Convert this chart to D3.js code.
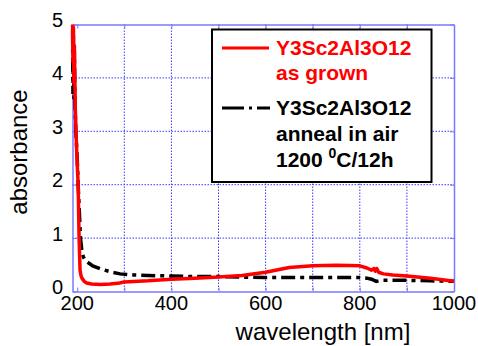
<!DOCTYPE html>
<html><head><meta charset="utf-8">
<script src="https://cdn.jsdelivr.net/npm/d3@7/dist/d3.min.js"></script>
<style>body{margin:0;background:#fff;}svg{display:block;font-family:"Liberation Sans",Arial,sans-serif;}</style>
</head><body>
<svg id="c" width="478" height="346"></svg>
<script>
const xTicks = [200, 400, 600, 800, 1000];
const xGrid = [300, 400, 500, 600, 700, 800, 900];
const yTicks = [0, 1, 2, 3, 4, 5];

const redWl  = [190,191,192,193,194,196,199,202,204,206,208,210,215,220,230,250,270,290,300,350,400,450,500,550,600,650,700,750,800,815,825,830,833,836,840,850,870,900,950,1000];
const redAbs = [5.0,4.3,4.95,3.9,4.6,3.4,2.6,2.0,1.0,0.4,0.3,0.25,0.19,0.16,0.14,0.13,0.14,0.16,0.18,0.2,0.23,0.25,0.27,0.3,0.36,0.45,0.48,0.49,0.48,0.44,0.4,0.43,0.38,0.43,0.36,0.33,0.31,0.29,0.25,0.19];

const blkWl  = [190,191,192,193,194,195,197,200,202,205,207,210,213,216,220,233,250,270,291,320,350,400,450,500,550,600,650,700,750,800,815,825,835,840,850,900,950,1000];
const blkAbs = [4.9,3.7,4.8,3.6,4.5,3.6,3.0,2.5,2.0,1.4,1.0,0.75,0.65,0.6,0.56,0.48,0.42,0.37,0.33,0.31,0.3,0.29,0.28,0.28,0.27,0.26,0.26,0.26,0.26,0.26,0.25,0.23,0.19,0.2,0.21,0.21,0.2,0.19];

const legendRed = ["Y3Sc2Al3O12", "as grown"];
const legendBlk = ["Y3Sc2Al3O12", "anneal in air"];

const svg = d3.select("#c");
const L = 72.5, R = 454, T = 24.5, B = 291.5;
const x = d3.scaleLinear().domain([190, 1000]).range([L, R]);
const y = d3.scaleLinear().domain([0, 5]).range([B, T]);

const gridCol = "#3a3aff";
svg.append("g").selectAll("line").data(xGrid).join("line")
  .attr("x1", d => x(d)).attr("x2", d => x(d)).attr("y1", T).attr("y2", B)
  .attr("stroke", gridCol).attr("stroke-width", 1).attr("stroke-dasharray", "1.5,1.5");
svg.append("g").selectAll("line").data(yTicks.slice(1, 5)).join("line")
  .attr("x1", L).attr("x2", R).attr("y1", d => y(d)).attr("y2", d => y(d))
  .attr("stroke", gridCol).attr("stroke-width", 1).attr("stroke-dasharray", "1.5,1.5");

const frameCol = "#7878ff";
const ax = (g) => { g.selectAll("path").attr("stroke", frameCol).attr("stroke-width", 1.5); g.selectAll(".tick line").attr("stroke", frameCol); g.selectAll("text").remove(); };
const xt = d3.range(200, 1001, 100);
svg.append("g").attr("transform", `translate(0,${B})`).call(d3.axisBottom(x).tickValues(xt).tickSize(-4).tickSizeOuter(0)).call(ax);
svg.append("g").attr("transform", `translate(0,${T})`).call(d3.axisTop(x).tickValues(xt).tickSize(-4).tickSizeOuter(0)).call(ax);
svg.append("g").attr("transform", `translate(${L},0)`).call(d3.axisLeft(y).tickValues(yTicks).tickSize(-4).tickSizeOuter(0)).call(ax);
svg.append("g").attr("transform", `translate(${R},0)`).call(d3.axisRight(y).tickValues(yTicks).tickSize(-4).tickSizeOuter(0)).call(ax);

svg.append("g").selectAll("text").data(xTicks).join("text")
  .attr("x", d => x(d)).attr("y", 310).attr("text-anchor", "middle")
  .attr("font-size", 20).attr("fill", "#000").text(d => d);
svg.append("g").selectAll("text").data(yTicks).join("text")
  .attr("x", 63).attr("y", d => y(d) + 2.5).attr("text-anchor", "end")
  .attr("font-size", 20).attr("fill", "#000").text(d => d);

svg.append("text").attr("x", 323).attr("y", 340).attr("text-anchor", "middle")
  .attr("font-size", 24).text("wavelength [nm]");
svg.append("text").attr("transform", "translate(27,152) rotate(-90)").attr("text-anchor", "middle")
  .attr("font-size", 24).text("absorbance");

const line = d3.line().x(d => x(d[0])).y(d => y(d[1]));
svg.append("clipPath").attr("id", "cp").append("rect")
  .attr("x", L - 2).attr("y", T - 1).attr("width", R - L + 4).attr("height", B - T + 1);
svg.append("path").datum(d3.zip(blkWl, blkAbs)).attr("d", line)
  .attr("fill", "none").attr("stroke", "#000").attr("stroke-width", 3.5)
  .attr("stroke-dasharray", "14,5,4,5").attr("clip-path", "url(#cp)");
svg.append("path").datum(d3.zip(redWl, redAbs)).attr("d", line)
  .attr("fill", "none").attr("stroke", "#ff0000").attr("stroke-width", 3.5)
  .attr("stroke-linejoin", "round").attr("clip-path", "url(#cp)");

const lg = svg.append("g");
lg.append("rect").attr("x", 212).attr("y", 29.5).attr("width", 219.5).attr("height", 152.5)
  .attr("fill", "#fff").attr("stroke", "#000").attr("stroke-width", 2);
lg.append("line").attr("x1", 222).attr("x2", 269).attr("y1", 48).attr("y2", 48)
  .attr("stroke", "#ff0000").attr("stroke-width", 3);
lg.append("line").attr("x1", 222).attr("x2", 270).attr("y1", 108).attr("y2", 108)
  .attr("stroke", "#000").attr("stroke-width", 3).attr("stroke-dasharray", "22,5,3,5");
lg.selectAll("text.r").data(legendRed).join("text").attr("class", "r")
  .attr("x", 276).attr("y", (d, i) => 55 + i * 25).attr("font-size", 21).attr("font-weight", "bold")
  .attr("fill", "#ff0000").text(d => d);
lg.selectAll("text.b").data(legendBlk).join("text").attr("class", "b")
  .attr("x", 276).attr("y", (d, i) => 115 + i * 25.5).attr("font-size", 21).attr("font-weight", "bold")
  .attr("fill", "#000").text(d => d);
const t3 = lg.append("text").attr("x", 276).attr("y", 167).attr("font-size", 21).attr("font-weight", "bold");
t3.append("tspan").text("1200 ");
t3.append("tspan").attr("font-size", 14).attr("dy", -9).text("0");
t3.append("tspan").attr("dy", 9).text("C/12h");
</script>
</body></html>
